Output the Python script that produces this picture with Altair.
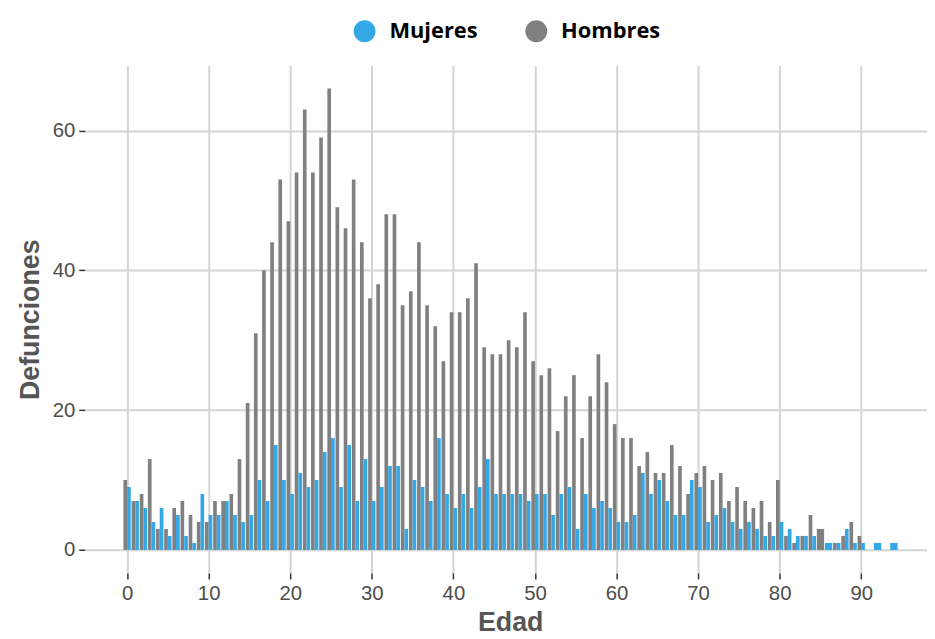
import altair as alt
import pandas as pd

ages = list(range(0, 95))

hombres = [10, 7, 8, 13, 3, 3, 6, 7, 5, 4,
           4, 7, 7, 8, 13, 21, 31, 40, 44, 53,
           47, 54, 63, 54, 59, 66, 49, 46, 53, 44,
           36, 38, 48, 48, 35, 37, 44, 35, 32, 27,
           34, 34, 36, 41, 29, 28, 28, 30, 29, 34,
           27, 25, 26, 17, 22, 25, 16, 22, 28, 24,
           18, 16, 16, 12, 14, 11, 11, 15, 12, 8,
           11, 12, 10, 11, 7, 9, 7, 6, 7, 4,
           10, 2, 1, 2, 5, 3, 0, 1, 2, 4,
           2, 0, 0, 0, 0]

mujeres = [9, 7, 6, 4, 6, 2, 5, 2, 1, 8,
           5, 5, 7, 5, 4, 5, 10, 7, 15, 10,
           8, 11, 9, 10, 14, 16, 9, 15, 7, 13,
           7, 9, 12, 12, 3, 10, 9, 7, 16, 8,
           6, 8, 6, 9, 13, 8, 8, 8, 8, 7,
           8, 8, 5, 8, 9, 3, 8, 6, 7, 6,
           4, 4, 5, 11, 8, 10, 7, 5, 5, 10,
           9, 4, 5, 6, 4, 3, 4, 3, 2, 2,
           4, 3, 2, 2, 2, 0, 1, 1, 3, 1,
           1, 0, 1, 0, 1]

series = ["Mujeres", "Hombres"]
colors = ["#34a8e6", "#808080"]
x_ticks = [0, 10, 20, 30, 40, 50, 60, 70, 80, 90]
y_ticks = [0, 20, 40, 60]

rows = []
for a, m, h in zip(ages, mujeres, hombres):
    rows.append({"edad": a, "sexo": "Hombres", "n": h})
    rows.append({"edad": a, "sexo": "Mujeres", "n": m})
df = pd.DataFrame(rows)

base_font = "Liberation Sans"

chart = (
    alt.Chart(df)
    .transform_filter("datum.n > 0")
    .transform_joinaggregate(k="count()", groupby=["edad"])
    .transform_calculate(
        x0="datum.edad - 0.45 + ((datum.k == 2 && datum.sexo == 'Mujeres') ? 0.45 : 0)"
    )
    .transform_calculate(x1="datum.x0 + (datum.k == 2 ? 0.45 : 0.9)")
    .mark_bar(strokeWidth=0)
    .encode(
        x=alt.X(
            "x0:Q",
            scale=alt.Scale(domain=[-5.195, 98.06], nice=False, zero=False),
            axis=alt.Axis(
                title="Edad",
                values=x_ticks,
                format="d",
                grid=True,
                gridColor="#d4d4d4",
                gridWidth=2,
                domain=False,
                tickColor="#333333",
                tickWidth=1.5,
                tickSize=6,
                labelFont=base_font,
                labelFontSize=20.5,
                labelColor="#4d4d4d",
                labelPadding=5,
                titleFont=base_font,
                titleFontSize=27,
                titleFontWeight="bold",
                titleColor="#555555",
                titleX=428.7,
                titleY=58,
                titleBaseline="alphabetic",
                titleAnchor="middle",
                titleAlign="center",
            ),
        ),
        x2="x1:Q",
        y=alt.Y(
            "n:Q",
            scale=alt.Scale(domain=[-3.3, 69.3], nice=False, zero=False),
            axis=alt.Axis(
                title="Defunciones",
                values=y_ticks,
                grid=True,
                gridColor="#d4d4d4",
                gridWidth=2,
                domain=False,
                tickColor="#333333",
                tickWidth=1.5,
                tickSize=6,
                labelFont=base_font,
                labelFontSize=20.5,
                labelColor="#4d4d4d",
                labelPadding=4,
                titleFont=base_font,
                titleFontSize=27,
                titleFontWeight="bold",
                titleColor="#555555",
                titleAngle=270,
                titleX=-55,
                titleY=255.7,
                titleBaseline="middle",
                titleAlign="center",
            ),
        ),
        y2=alt.datum(0),
        color=alt.Color(
            "sexo:N",
            scale=alt.Scale(domain=series, range=colors),
            legend=alt.Legend(
                title=None,
                orient="none",
                direction="horizontal",
                legendX=271,
                legendY=-45.5,
                padding=0,
                symbolType="circle",
                symbolSize=484,
                symbolStrokeWidth=0,
                symbolOpacity=1,
                labelFont="Open Sans",
                labelFontSize=22,
                labelFontWeight="bold",
                labelColor="#000000",
                labelOffset=14,
                columnPadding=48,
            ),
        ),
    )
    .properties(
        width=848.7,
        height=511.4,
        autosize=alt.AutoSizeParams(type="none"),
        padding={"left": 77.3, "top": 55.5, "right": 0, "bottom": 64},
        background="#ffffff",
    )
    .configure_view(strokeWidth=0)
)

chart.save("out.html", embed_options={"renderer": "svg", "actions": False})
